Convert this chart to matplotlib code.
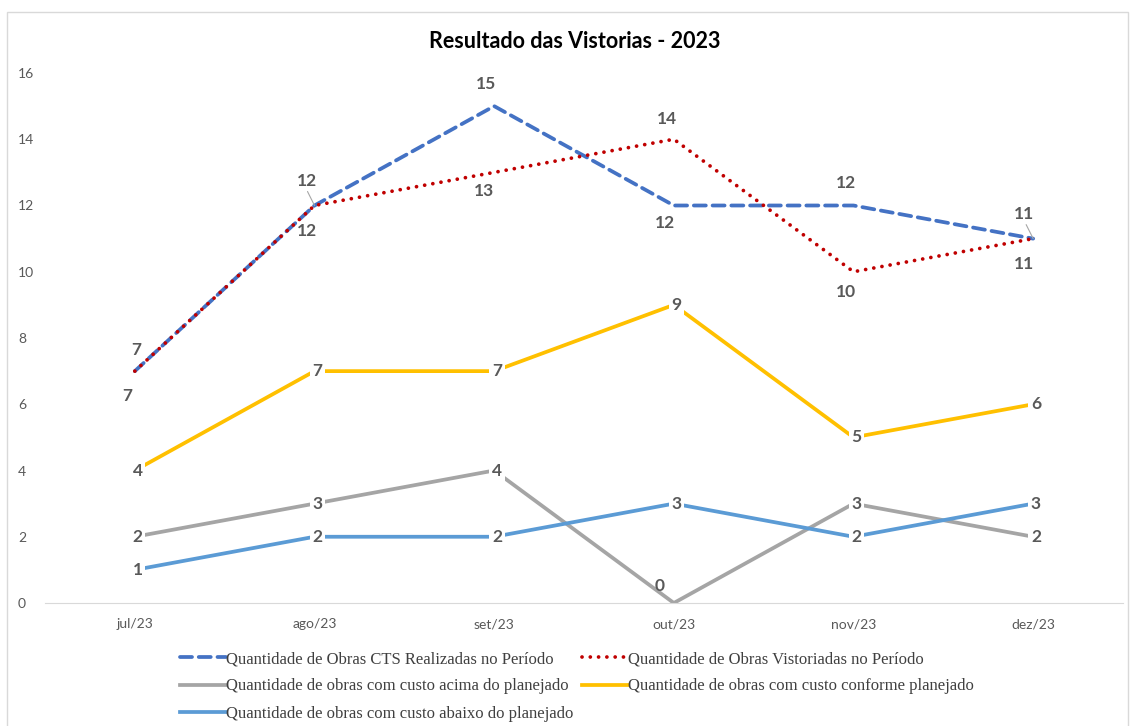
import matplotlib
matplotlib.use("Agg")
import matplotlib.pyplot as plt
from matplotlib.patches import Rectangle

months = ["jul/23", "ago/23", "set/23", "out/23", "nov/23", "dez/23"]
realizadas = [7, 12, 15, 12, 12, 11]
vistoriadas = [7, 12, 13, 14, 10, 11]
acima = [2, 3, 4, 0, 3, 2]
conforme = [4, 7, 7, 9, 5, 6]
abaixo = [1, 2, 2, 3, 2, 3]

names = ["Quantidade de Obras CTS Realizadas no Período",
         "Quantidade de Obras Vistoriadas no Período",
         "Quantidade de obras com custo acima do planejado",
         "Quantidade de obras com custo conforme planejado",
         "Quantidade de obras com custo abaixo do planejado"]

W, H = 1130, 726
fig = plt.figure(figsize=(W / 100, H / 100), dpi=100)
fig.patches.append(Rectangle((7 / W, -0.01), (W - 9) / W, (H - 12) / H + 0.01,
                             transform=fig.transFigure, fill=False,
                             edgecolor="#D9D9D9", linewidth=1))
ax = fig.add_axes([45 / W, 123 / H, (1123 - 45) / W, 530 / H])
x = list(range(len(months)))
ax.set_xlim(-0.5, len(months) - 0.5)
ax.set_ylim(0, 16)
ax.set_yticks(range(0, 17, 2))
ax.set_xticks(x)
ax.set_xticklabels(months)
for s in ["top", "right", "left"]:
    ax.spines[s].set_visible(False)
ax.spines["bottom"].set_color("#D9D9D9")
ax.tick_params(axis="both", length=0, labelsize=10, labelcolor="#595959")
ax.tick_params(axis="x", pad=11)
ax.tick_params(axis="y", pad=19.5)
for lab in ax.get_xticklabels() + ax.get_yticklabels():
    lab.set_fontfamily("Lato")
for lab in ax.get_yticklabels():
    lab.set_horizontalalignment("left")

lw = 2.7
l1, = ax.plot(x, realizadas, color="#4472C4", lw=lw, linestyle=(0, (3.2, 1.8)), dash_capstyle="round", zorder=3)
l2, = ax.plot(x, vistoriadas, color="#C00000", lw=lw, linestyle=(0, (0.01, 2.2)), dash_capstyle="round", zorder=4)
l3, = ax.plot(x, acima, color="#A5A5A5", lw=lw, zorder=2)
l4, = ax.plot(x, conforme, color="#FFC000", lw=lw, zorder=2)
l5, = ax.plot(x, abaixo, color="#5B9BD5", lw=lw, zorder=2)

lab_kw = dict(fontsize=12.5, fontweight="bold", color="#595959", family="Lato",
              ha="center", va="center", zorder=6)
box = dict(boxstyle="square,pad=0.15", facecolor="white", edgecolor="none")

# centered labels with white background
for series in (acima, conforme, abaixo):
    for i, v in enumerate(series):
        if series is acima and i == 3:
            continue
        ax.annotate(str(v), (i, v), xytext=(2, 0), textcoords="offset points",
                    bbox=box, **lab_kw)
ax.annotate(str(acima[3]), (3, acima[3]), xytext=(-10, 12), textcoords="offset points", **lab_kw)

# offsets (pixels) for blue and red labels
off_real = [(1, 21), (-8, 25), (-8, 22), (-9, -17), (-8, 22), (-9, 25)]
off_vist = [(-8, -25), (-8, -25), (-10, -19), (-7, 20), (-8, -20), (-9, -25)]
for i, v in enumerate(realizadas):
    dx, dy = off_real[i]
    ax.annotate(str(v), (i, v), xytext=(dx * 0.72, dy * 0.72), textcoords="offset points", **lab_kw)
for i, v in enumerate(vistoriadas):
    dx, dy = off_vist[i]
    ax.annotate(str(v), (i, v), xytext=(dx * 0.72, dy * 0.72), textcoords="offset points", **lab_kw)
# leader lines
for i in (1, 5):
    ax.annotate("", (i, realizadas[i]), xytext=(-7 * 0.72, 14 * 0.72), textcoords="offset points",
                arrowprops=dict(arrowstyle="-", color="#A6A6A6", lw=0.8, shrinkA=0, shrinkB=0), zorder=5)

fig.text(575 / W, 1 - 41 / H, "Resultado das Vistorias - 2023", fontsize=15.5, fontweight="bold",
         family="Lato", color="black", ha="center", va="center")

handles = [l1, l3, l5, l2, l4]
labels = [names[0], names[2], names[4], names[1], names[3]]
leg = fig.legend(handles, labels, loc="upper center", bbox_to_anchor=(0.5 + 12 / W, 1 - 636 / H),
                 ncol=2, frameon=False, prop={"family": "Liberation Serif", "size": 12},
                 handlelength=2.75, handletextpad=0.0, columnspacing=0.5, labelspacing=0.69,
                 labelcolor="#404040")
fig.savefig("out.png", dpi=100)
